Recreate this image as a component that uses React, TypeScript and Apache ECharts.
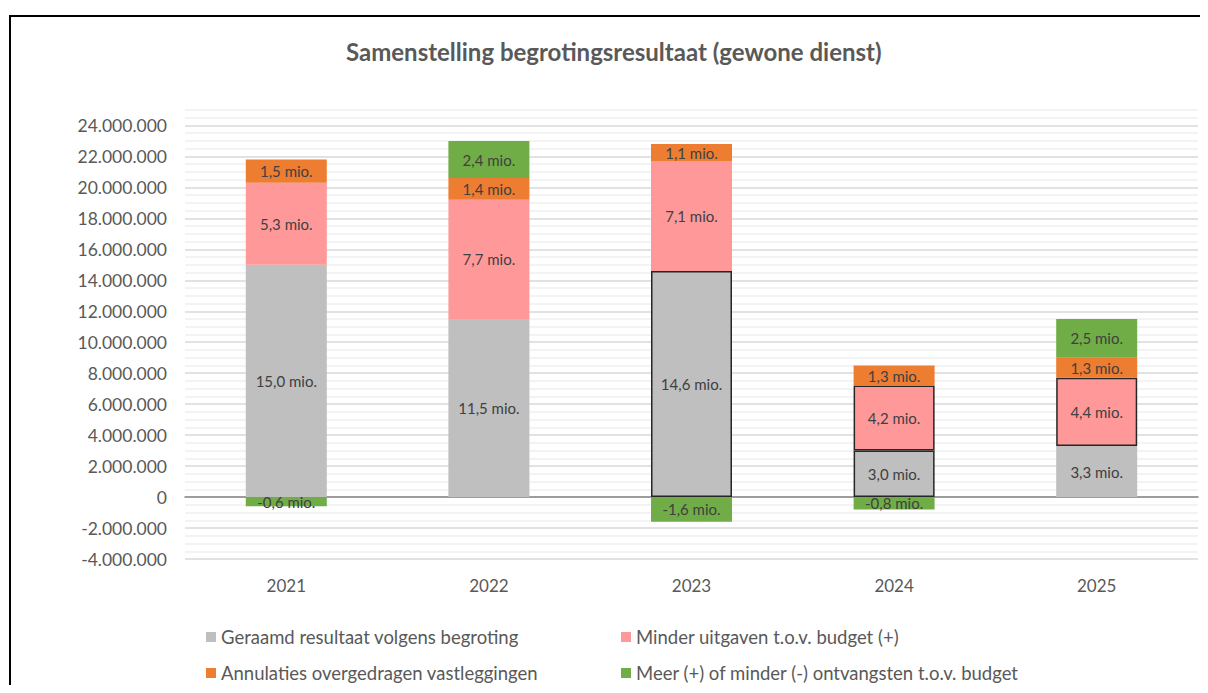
import React, { useEffect, useRef } from "react";
import * as echarts from "echarts";

const years = ["2021", "2022", "2023", "2024", "2025"];
const seriesNames = [
  "Geraamd resultaat volgens begroting",
  "Minder uitgaven t.o.v. budget (+)",
  "Annulaties overgedragen vastleggingen",
  "Meer (+) of minder (-) ontvangsten t.o.v. budget",
];
const geraamd = [15000000, 11500000, 14600000, 3000000, 3300000];
const minderUitgaven = [5300000, 7700000, 7100000, 4200000, 4400000];
const annulaties = [1500000, 1400000, 1100000, 1300000, 1300000];
const ontvangsten = [-600000, 2400000, -1600000, -800000, 2500000];
// segments outlined in black: [seriesIndex, yearIndex]
const outlined = [
  [0, 2],
  [0, 3],
  [1, 3],
  [1, 4],
];
const colors = ["#bfbfbf", "#ff9999", "#ed7d31", "#70ad47"];

const FONT = "Lato, 'Open Sans', sans-serif";

function fmtAxis(v: number): string {
  const s = String(Math.abs(Math.round(v))).replace(/\B(?=(\d{3})+(?!\d))/g, ".");
  return (v < 0 ? "-" : "") + s;
}
function fmtMio(v: number): string {
  return (v / 1e6).toFixed(1).replace(".", ",") + " mio.";
}

export default function App() {
  const ref = useRef<HTMLDivElement>(null);
  useEffect(() => {
    if (!ref.current) return;
    const chart = echarts.init(ref.current, undefined, { renderer: "svg" });
    const all = [geraamd, minderUitgaven, annulaties, ontvangsten];
    const series = all.map((arr, si) => ({
      name: seriesNames[si],
      type: "bar",
      stack: "total",
      barWidth: 81,
      itemStyle: { color: colors[si] },
      label: {
        show: true,
        position: "inside",
        color: "#404040",
        fontSize: 15,
        fontFamily: FONT,
        formatter: (p: any) => fmtMio(p.value),
      },
      data: arr.map((v, yi) => {
        const isOut = outlined.some((o) => o[0] === si && o[1] === yi);
        return isOut
          ? { value: v, itemStyle: { borderColor: "#262626", borderWidth: 1.5 } }
          : { value: v };
      }),
    }));
    const legendText = { fontSize: 18.5, color: "#595959", fontFamily: FONT, lineHeight: 22 };
    const legendBase = {
      orient: "vertical",
      top: 618,
      height: 70,
      padding: 0,
      itemWidth: 10,
      itemHeight: 10,
      itemGap: 14,
      icon: "rect",
      textStyle: legendText,
    };
    chart.setOption({
      animation: false,
      textStyle: { fontFamily: FONT },
      title: {
        text: "Samenstelling begrotingsresultaat (gewone dienst)",
        left: 333,
        top: 26,
        textStyle: { fontSize: 24, fontWeight: "bold", color: "#595959", fontFamily: FONT },
      },
      graphic: [
        {
          type: "line",
          shape: { x1: 1, y1: 8, x2: 1300, y2: 8 },
          style: { stroke: "#000", lineWidth: 2 },
          silent: true,
        },
        {
          type: "line",
          shape: { x1: 2, y1: 7, x2: 2, y2: 1000 },
          style: { stroke: "#000", lineWidth: 2 },
          silent: true,
        },
      ],
      grid: { left: 177, right: 10, top: 102, bottom: 134 },
      legend: [
        { ...legendBase, data: [seriesNames[0], seriesNames[2]], left: 198 },
        { ...legendBase, data: [seriesNames[1], seriesNames[3]], left: 613 },
      ],
      xAxis: {
        type: "category",
        data: years,
        axisTick: { show: false },
        axisLine: { lineStyle: { color: "#868686", width: 1.5 } },
        axisLabel: { fontSize: 17, color: "#595959", margin: 18, fontFamily: FONT },
      },
      yAxis: {
        type: "value",
        min: -4000000,
        max: 25000000,
        interval: 500000,
        axisLine: { show: false },
        axisTick: { show: false },
        axisLabel: {
          fontSize: 17.5,
          color: "#595959",
          margin: 18,
          fontFamily: FONT,
          formatter: (v: number) => (Math.round(v) % 2000000 === 0 ? fmtAxis(v) : ""),
        },
        splitLine: {
          show: true,
          lineStyle: { color: ["#d9d9d9", "#efefef", "#efefef", "#efefef"], width: 1.5 },
        },
      },
      series,
    });
    return () => chart.dispose();
  }, []);
  return <div ref={ref} style={{ width: 1200, height: 685, marginBottom: -8 }} />;
}
